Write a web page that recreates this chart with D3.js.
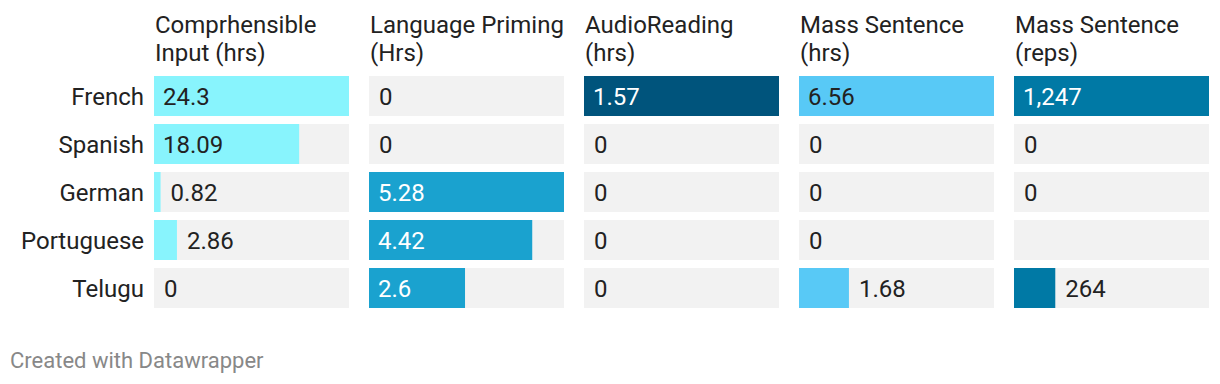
<!DOCTYPE html>
<html>
<head>
<meta charset="utf-8">
<script src="https://cdn.jsdelivr.net/npm/d3@7"></script>
<style>
  body { margin: 0; background: #fff; }
  svg text { font-family: Roboto, sans-serif; }
</style>
</head>
<body>
<div id="chart"></div>
<script>
const languages = ["French", "Spanish", "German", "Portuguese", "Telugu"];

const columnTitles = [
    ["Comprhensible", "Input (hrs)"],
    ["Language Priming", "(Hrs)"],
    ["AudioReading", "(hrs)"],
    ["Mass Sentence", "(hrs)"],
    ["Mass Sentence", "(reps)"]
];

const comprehensibleInput = [24.3, 18.09, 0.82, 2.86, 0];
const languagePriming = [0, 0, 5.28, 4.42, 2.6];
const audioReading = [1.57, 0, 0, 0, 0];
const massSentenceHrs = [6.56, 0, 0, 0, 1.68];
const massSentenceReps = [1247, 0, 0, null, 264];

const columns = [comprehensibleInput, languagePriming, audioReading, massSentenceHrs, massSentenceReps];
const colors = ["#88f4fd", "#1aa2cf", "#00547c", "#58c9f6", "#0079a5"];
const darkBar = [false, true, true, false, true];

const width = 1220, height = 384;
const margin = { left: 154, right: 11, top: 76 };
const colGap = 20;
const colWidth = (width - margin.left - margin.right - colGap * 4) / 5;
const fontSize = 24;

const svg = d3.select("#chart").append("svg")
    .attr("width", width)
    .attr("height", height);

// rows: step 48, bar height 40
const y = d3.scaleBand()
    .domain(languages)
    .range([margin.top, margin.top + 4 * 48 + 40])
    .paddingInner(8 / 48)
    .paddingOuter(0);

svg.append("g")
    .selectAll("text")
    .data(languages)
    .enter().append("text")
    .attr("x", 144)
    .attr("y", d => y(d) + y.bandwidth() / 2)
    .attr("dy", "0.36em")
    .attr("text-anchor", "end")
    .attr("font-size", fontSize)
    .attr("fill", "#222")
    .text(d => d);

const fmt = d3.format(",");

columns.forEach((values, ci) => {
    const x0 = margin.left + ci * (colWidth + colGap);
    const x = d3.scaleLinear()
        .domain([0, d3.max(values)])
        .range([x0, x0 + colWidth]);

    const g = svg.append("g");

    // header
    const head = g.append("text")
        .attr("x", x0 + 1)
        .attr("y", 33)
        .attr("font-size", fontSize)
        .attr("fill", "#222");
    columnTitles[ci].forEach((line, li) => {
        head.append("tspan")
            .attr("x", x0 + 1)
            .attr("dy", li === 0 ? 0 : 28)
            .text(line);
    });

    const rows = g.selectAll(".row")
        .data(languages.map((name, i) => ({ name, value: values[i] })))
        .enter().append("g")
        .attr("class", "row");

    // background track
    rows.append("rect")
        .attr("x", x0)
        .attr("y", d => y(d.name))
        .attr("width", colWidth)
        .attr("height", y.bandwidth())
        .attr("fill", "#f2f2f2");

    rows.filter(d => d.value > 0).append("rect")
        .attr("x", x0)
        .attr("y", d => y(d.name))
        .attr("width", d => x(d.value) - x0)
        .attr("height", y.bandwidth())
        .attr("fill", colors[ci]);

    // labels: inside when bar is long, otherwise after the bar
    rows.filter(d => d.value != null).append("text")
        .each(function (d) {
            const inside = x(d.value) - x0 > 60;
            d3.select(this)
                .attr("x", inside ? x0 + 9 : x(d.value) + 10)
                .attr("fill", inside && darkBar[ci] ? "#fff" : "#222");
        })
        .attr("y", d => y(d.name) + y.bandwidth() / 2)
        .attr("dy", "0.36em")
        .attr("font-size", fontSize)
        .text(d => fmt(d.value));
});

svg.append("text")
    .attr("x", 10)
    .attr("y", 368)
    .attr("font-size", 22)
    .attr("fill", "#888")
    .text("Created with Datawrapper");
</script>
</body>
</html>
